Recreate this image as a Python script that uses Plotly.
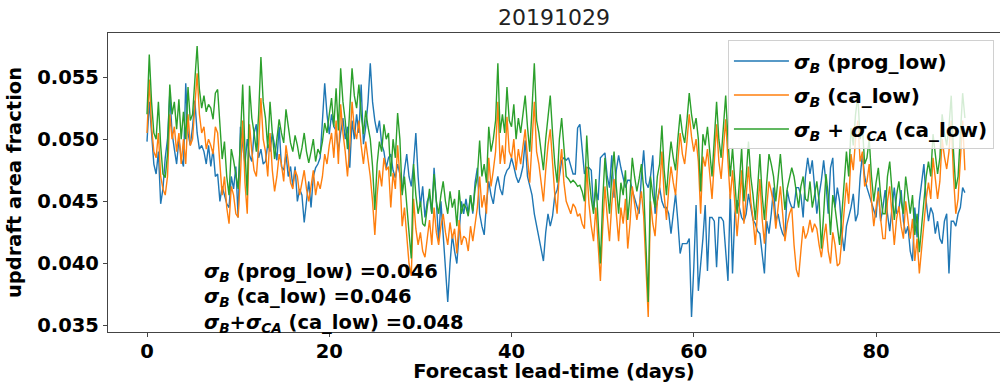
import plotly.graph_objects as go

# Ensemble updraft area fraction, 6-hourly output over a 90-day forecast
lead_time_days = [i * 0.25 for i in range(360)]

prog_low = [
    0.0498, 0.0530, 0.0505, 0.0480, 0.0472, 0.0490, 0.0448, 0.0460,
    0.0485, 0.0500, 0.0537, 0.0505, 0.0492, 0.0480, 0.0500, 0.0485,
    0.0478, 0.0545, 0.0505, 0.0495, 0.0510, 0.0531, 0.0505, 0.0492,
    0.0495, 0.0490, 0.0480, 0.0495, 0.0478, 0.0492, 0.0470, 0.0472,
    0.0450, 0.0462, 0.0455, 0.0448, 0.0445, 0.0470, 0.0460, 0.0478,
    0.0437, 0.0510, 0.0495, 0.0480, 0.0500, 0.0487, 0.0482, 0.0505,
    0.0512, 0.0485, 0.0492, 0.0480, 0.0482, 0.0496, 0.0490, 0.0505,
    0.0495, 0.0483, 0.0510, 0.0478, 0.0475, 0.0488, 0.0470, 0.0478,
    0.0462, 0.0478, 0.0450, 0.0460, 0.0455, 0.0433, 0.0450, 0.0466,
    0.0445, 0.0470, 0.0477, 0.0480, 0.0485, 0.0515, 0.0545, 0.0520,
    0.0504, 0.0520, 0.0510, 0.0507, 0.0490, 0.0505, 0.0517, 0.0500,
    0.0510, 0.0477, 0.0515, 0.0500, 0.0520, 0.0505, 0.0544, 0.0496,
    0.0510, 0.0530, 0.0561, 0.0530, 0.0515, 0.0505, 0.0515, 0.0496,
    0.0490, 0.0477, 0.0485, 0.0488, 0.0475, 0.0469, 0.0480, 0.0472,
    0.0458, 0.0475, 0.0488, 0.0470, 0.0462, 0.0480, 0.0505, 0.0470,
    0.0446, 0.0462, 0.0437, 0.0450, 0.0455, 0.0440, 0.0477, 0.0450,
    0.0418, 0.0450, 0.0420, 0.0390, 0.0369, 0.0400, 0.0423, 0.0410,
    0.0400, 0.0425, 0.0450, 0.0440, 0.0452, 0.0440, 0.0455, 0.0440,
    0.0465, 0.0477, 0.0440, 0.0430, 0.0423, 0.0448, 0.0466, 0.0455,
    0.0448, 0.0462, 0.0470, 0.0460, 0.0455, 0.0470, 0.0475, 0.0477,
    0.0485, 0.0478, 0.0470, 0.0465, 0.0470, 0.0478, 0.0499, 0.0470,
    0.0462, 0.0455, 0.0440, 0.0430, 0.0423, 0.0410, 0.0402, 0.0425,
    0.0440, 0.0430, 0.0438, 0.0455, 0.0459, 0.0470, 0.0483, 0.0485,
    0.0483, 0.0485, 0.0478, 0.0472, 0.0472, 0.0509, 0.0512, 0.0490,
    0.0472, 0.0477, 0.0477, 0.0475, 0.0443, 0.0459, 0.0451, 0.0485,
    0.0487, 0.0489, 0.0470, 0.0461, 0.0487, 0.0453, 0.0475, 0.0487,
    0.0477, 0.0470, 0.0461, 0.0467, 0.0467, 0.0459, 0.0452, 0.0446,
    0.0440, 0.0470, 0.0491, 0.0465, 0.0461, 0.0470, 0.0487, 0.0440,
    0.0451, 0.0461, 0.0450, 0.0445, 0.0445, 0.0440, 0.0424, 0.0440,
    0.0456, 0.0434, 0.0408, 0.0416, 0.0416, 0.0416, 0.0420, 0.0357,
    0.0397, 0.0447, 0.0378, 0.0397, 0.0420, 0.0447, 0.0394, 0.0437,
    0.0437, 0.0434, 0.0397, 0.0437, 0.0437, 0.0434, 0.0410, 0.0386,
    0.0456, 0.0392, 0.0440, 0.0451, 0.0445, 0.0437, 0.0434, 0.0440,
    0.0456, 0.0445, 0.0435, 0.0432, 0.0426, 0.0424, 0.0410, 0.0392,
    0.0434, 0.0424, 0.0440, 0.0461, 0.0434, 0.0440, 0.0430, 0.0424,
    0.0421, 0.0459, 0.0450, 0.0445, 0.0445, 0.0461, 0.0461, 0.0455,
    0.0437, 0.0470, 0.0485, 0.0472, 0.0483, 0.0460, 0.0440, 0.0455,
    0.0467, 0.0483, 0.0465, 0.0440, 0.0477, 0.0485, 0.0445, 0.0461,
    0.0450, 0.0424, 0.0410, 0.0430, 0.0437, 0.0445, 0.0456, 0.0434,
    0.0440, 0.0469, 0.0488, 0.0470, 0.0461, 0.0455, 0.0451, 0.0445,
    0.0437, 0.0461, 0.0434, 0.0445, 0.0459, 0.0440, 0.0426, 0.0445,
    0.0461, 0.0440, 0.0443, 0.0459, 0.0434, 0.0424, 0.0430, 0.0410,
    0.0402, 0.0445, 0.0421, 0.0450, 0.0467, 0.0480, 0.0450, 0.0434,
    0.0445, 0.0440, 0.0424, 0.0434, 0.0420, 0.0416, 0.0434, 0.0440,
    0.0392, 0.0434, 0.0434, 0.0430, 0.0440, 0.0445, 0.0461, 0.0457,
]

ca_low = [
    0.0505, 0.0548, 0.0510, 0.0490, 0.0485, 0.0505, 0.0470, 0.0460,
    0.0455, 0.0470, 0.0520, 0.0500, 0.0510, 0.0490, 0.0505, 0.0480,
    0.0500, 0.0480, 0.0520, 0.0495, 0.0500, 0.0530, 0.0553, 0.0520,
    0.0505, 0.0510, 0.0492, 0.0500, 0.0495, 0.0488, 0.0510, 0.0505,
    0.0480, 0.0455, 0.0470, 0.0445, 0.0432, 0.0462, 0.0455, 0.0440,
    0.0437, 0.0470, 0.0515, 0.0465, 0.0440, 0.0512, 0.0490, 0.0475,
    0.0470, 0.0495, 0.0533, 0.0500, 0.0490, 0.0470, 0.0505, 0.0475,
    0.0458, 0.0470, 0.0488, 0.0480, 0.0466, 0.0495, 0.0482, 0.0465,
    0.0460, 0.0475, 0.0470, 0.0455, 0.0465, 0.0475, 0.0460, 0.0450,
    0.0462, 0.0475, 0.0455, 0.0466, 0.0460, 0.0470, 0.0488, 0.0480,
    0.0495, 0.0505, 0.0485, 0.0515, 0.0480, 0.0528, 0.0505, 0.0490,
    0.0470, 0.0495, 0.0530, 0.0508, 0.0500, 0.0515, 0.0495, 0.0480,
    0.0498, 0.0485, 0.0470, 0.0450, 0.0423, 0.0455, 0.0475, 0.0462,
    0.0485, 0.0475, 0.0478, 0.0445, 0.0473, 0.0460, 0.0495, 0.0470,
    0.0430, 0.0445, 0.0420, 0.0400, 0.0390, 0.0452, 0.0428, 0.0415,
    0.0425, 0.0410, 0.0405, 0.0420, 0.0435, 0.0415, 0.0445, 0.0425,
    0.0415, 0.0430, 0.0440, 0.0425, 0.0415, 0.0433, 0.0420, 0.0428,
    0.0408, 0.0435, 0.0415, 0.0422, 0.0420, 0.0410, 0.0430, 0.0418,
    0.0432, 0.0445, 0.0470, 0.0445, 0.0455, 0.0440, 0.0485, 0.0462,
    0.0475, 0.0490, 0.0530, 0.0480, 0.0495, 0.0480, 0.0518, 0.0490,
    0.0485, 0.0500, 0.0475, 0.0492, 0.0480, 0.0495, 0.0508, 0.0485,
    0.0465, 0.0498, 0.0530, 0.0490, 0.0480, 0.0465, 0.0450, 0.0475,
    0.0495, 0.0508, 0.0480, 0.0455, 0.0440, 0.0475, 0.0492, 0.0465,
    0.0450, 0.0445, 0.0440, 0.0448, 0.0445, 0.0438, 0.0440, 0.0432,
    0.0428, 0.0478, 0.0448, 0.0430, 0.0418, 0.0445, 0.0410, 0.0386,
    0.0428, 0.0462, 0.0438, 0.0418, 0.0448, 0.0468, 0.0440, 0.0418,
    0.0445, 0.0432, 0.0452, 0.0412, 0.0432, 0.0462, 0.0448, 0.0435,
    0.0446, 0.0458, 0.0438, 0.0400, 0.0357, 0.0450, 0.0432, 0.0422,
    0.0450, 0.0460, 0.0490, 0.0455, 0.0435, 0.0460, 0.0478, 0.0465,
    0.0455, 0.0482, 0.0505, 0.0488, 0.0480, 0.0498, 0.0520, 0.0502,
    0.0490, 0.0500, 0.0482, 0.0440, 0.0486, 0.0478, 0.0492, 0.0472,
    0.0452, 0.0482, 0.0512, 0.0482, 0.0468, 0.0492, 0.0516, 0.0482,
    0.0452, 0.0475, 0.0446, 0.0422, 0.0446, 0.0475, 0.0432, 0.0452,
    0.0478, 0.0450, 0.0436, 0.0415, 0.0440, 0.0468, 0.0436, 0.0416,
    0.0445, 0.0466, 0.0458, 0.0448, 0.0428, 0.0445, 0.0462, 0.0440,
    0.0418, 0.0432, 0.0440, 0.0445, 0.0415, 0.0395, 0.0389, 0.0410,
    0.0430, 0.0420, 0.0425, 0.0435, 0.0425, 0.0432, 0.0428, 0.0415,
    0.0405, 0.0420, 0.0432, 0.0410, 0.0400, 0.0425, 0.0415, 0.0398,
    0.0400, 0.0420, 0.0440, 0.0465, 0.0448, 0.0488, 0.0475, 0.0500,
    0.0515, 0.0482, 0.0490, 0.0462, 0.0466, 0.0480, 0.0450, 0.0430,
    0.0445, 0.0458, 0.0436, 0.0420, 0.0420, 0.0450, 0.0462, 0.0440,
    0.0415, 0.0436, 0.0446, 0.0430, 0.0420, 0.0450, 0.0435, 0.0420,
    0.0436, 0.0402, 0.0420, 0.0392, 0.0412, 0.0432, 0.0452, 0.0465,
    0.0452, 0.0485, 0.0470, 0.0452, 0.0466, 0.0500, 0.0486, 0.0476,
    0.0490, 0.0515, 0.0470, 0.0440, 0.0452, 0.0482, 0.0515, 0.0475,
]

ca_low_with_ca = [
    0.0520, 0.0568, 0.0530, 0.0505, 0.0500, 0.0530, 0.0495, 0.0472,
    0.0469, 0.0488, 0.0544, 0.0520, 0.0530, 0.0508, 0.0532, 0.0500,
    0.0522, 0.0500, 0.0542, 0.0515, 0.0520, 0.0548, 0.0575, 0.0540,
    0.0525, 0.0535, 0.0522, 0.0528, 0.0525, 0.0516, 0.0537, 0.0540,
    0.0510, 0.0484, 0.0498, 0.0470, 0.0455, 0.0492, 0.0483, 0.0470,
    0.0460, 0.0500, 0.0544, 0.0490, 0.0455, 0.0543, 0.0517, 0.0505,
    0.0490, 0.0520, 0.0566, 0.0530, 0.0517, 0.0493, 0.0530, 0.0505,
    0.0484, 0.0500, 0.0516, 0.0505, 0.0497, 0.0524, 0.0510, 0.0497,
    0.0490, 0.0503, 0.0495, 0.0484, 0.0493, 0.0505, 0.0490, 0.0481,
    0.0490, 0.0500, 0.0482, 0.0492, 0.0488, 0.0498, 0.0513, 0.0505,
    0.0520, 0.0533, 0.0510, 0.0541, 0.0507, 0.0557, 0.0530, 0.0515,
    0.0492, 0.0520, 0.0557, 0.0535, 0.0525, 0.0544, 0.0520, 0.0504,
    0.0523, 0.0510, 0.0500, 0.0478, 0.0443, 0.0480, 0.0498, 0.0490,
    0.0512, 0.0500, 0.0505, 0.0470, 0.0500, 0.0485, 0.0521, 0.0500,
    0.0455, 0.0470, 0.0445, 0.0425, 0.0404, 0.0480, 0.0455, 0.0440,
    0.0450, 0.0432, 0.0430, 0.0446, 0.0460, 0.0440, 0.0472, 0.0450,
    0.0440, 0.0455, 0.0466, 0.0450, 0.0440, 0.0458, 0.0445, 0.0452,
    0.0430, 0.0459, 0.0440, 0.0448, 0.0445, 0.0438, 0.0455, 0.0442,
    0.0460, 0.0470, 0.0499, 0.0470, 0.0480, 0.0465, 0.0510, 0.0490,
    0.0500, 0.0515, 0.0561, 0.0505, 0.0520, 0.0505, 0.0542, 0.0515,
    0.0510, 0.0528, 0.0500, 0.0517, 0.0505, 0.0520, 0.0535, 0.0510,
    0.0490, 0.0525, 0.0561, 0.0515, 0.0505, 0.0490, 0.0475, 0.0500,
    0.0520, 0.0535, 0.0505, 0.0480, 0.0465, 0.0500, 0.0517, 0.0490,
    0.0470, 0.0468, 0.0465, 0.0467, 0.0465, 0.0462, 0.0463, 0.0458,
    0.0450, 0.0503, 0.0470, 0.0452, 0.0440, 0.0468, 0.0430, 0.0400,
    0.0450, 0.0485, 0.0460, 0.0440, 0.0470, 0.0490, 0.0462, 0.0440,
    0.0465, 0.0455, 0.0475, 0.0435, 0.0455, 0.0485, 0.0470, 0.0458,
    0.0468, 0.0480, 0.0460, 0.0420, 0.0369, 0.0470, 0.0455, 0.0445,
    0.0470, 0.0480, 0.0511, 0.0475, 0.0455, 0.0480, 0.0498, 0.0485,
    0.0475, 0.0500, 0.0520, 0.0505, 0.0497, 0.0515, 0.0537, 0.0520,
    0.0508, 0.0517, 0.0500, 0.0458, 0.0504, 0.0495, 0.0510, 0.0490,
    0.0470, 0.0500, 0.0530, 0.0500, 0.0485, 0.0510, 0.0535, 0.0500,
    0.0470, 0.0493, 0.0465, 0.0440, 0.0465, 0.0493, 0.0450, 0.0470,
    0.0498, 0.0470, 0.0455, 0.0435, 0.0460, 0.0488, 0.0455, 0.0435,
    0.0465, 0.0488, 0.0480, 0.0470, 0.0450, 0.0470, 0.0488, 0.0465,
    0.0443, 0.0460, 0.0470, 0.0477, 0.0470, 0.0458, 0.0445, 0.0462,
    0.0470, 0.0452, 0.0450, 0.0466, 0.0445, 0.0455, 0.0466, 0.0450,
    0.0412, 0.0440, 0.0472, 0.0455, 0.0423, 0.0455, 0.0445, 0.0430,
    0.0415, 0.0440, 0.0466, 0.0490, 0.0470, 0.0509, 0.0495, 0.0520,
    0.0535, 0.0500, 0.0510, 0.0480, 0.0485, 0.0500, 0.0470, 0.0450,
    0.0465, 0.0477, 0.0455, 0.0440, 0.0440, 0.0470, 0.0482, 0.0460,
    0.0435, 0.0455, 0.0466, 0.0450, 0.0440, 0.0470, 0.0455, 0.0440,
    0.0455, 0.0423, 0.0440, 0.0409, 0.0430, 0.0450, 0.0470, 0.0482,
    0.0470, 0.0504, 0.0490, 0.0472, 0.0485, 0.0520, 0.0505, 0.0495,
    0.0510, 0.0535, 0.0490, 0.0460, 0.0470, 0.0500, 0.0537, 0.0517,
]

series_names = [
    "<i>σ<sub>B</sub></i> (prog_low)",
    "<i>σ<sub>B</sub></i> (ca_low)",
    "<i>σ<sub>B</sub></i> + <i>σ<sub>CA</sub></i> (ca_low)",
]
series_colors = ["#1f77b4", "#ff7f0e", "#2ca02c"]
series_means = ["0.046", "0.046", "0.048"]
stat_labels = [
    "<i>σ<sub>B</sub></i> (prog_low) =",
    "<i>σ<sub>B</sub></i> (ca_low) =",
    "<i>σ<sub>B</sub></i>+<i>σ<sub>CA</sub></i> (ca_low) =",
]
x_ticks = [0, 20, 40, 60, 80]
y_ticks = [0.035, 0.040, 0.045, 0.050, 0.055]

FONT = "DejaVu Sans"
INK = "#000000"

fig = go.Figure()
for i, (vals, name, color) in enumerate(
    zip([prog_low, ca_low, ca_low_with_ca], series_names, series_colors)
):
    fig.add_trace(
        go.Scatter(
            x=lead_time_days,
            y=vals,
            mode="lines",
            name=name,
            legendgroup=f"g{i}",
            line=dict(color=color, width=1.4),
        )
    )

stats_text = "<br>".join(f"{lab}{m}" for lab, m in zip(stat_labels, series_means))
fig.add_annotation(
    x=6.0, y=0.03725, xref="x", yref="y",
    xanchor="left", yanchor="middle", align="left",
    text=stats_text, showarrow=False,
    font=dict(family=FONT, size=19.5, color=INK, weight="bold"),
)

axis_common = dict(
    showgrid=False, zeroline=False,
    showline=True, linecolor="#444444", linewidth=1.3,
    ticks="outside", ticklen=4, tickwidth=1.2, tickcolor="#444444",
    tickfont=dict(family=FONT, size=19.5, color=INK, weight="bold"),
)

fig.update_layout(
    width=1000, height=383,
    margin=dict(l=108, r=0, t=33, b=51),
    paper_bgcolor="white", plot_bgcolor="white",
    title=dict(
        text="20191029", x=0.5, xref="paper", xanchor="center",
        y=1 - 17 / 383, yref="container", yanchor="middle",
        font=dict(family=FONT, size=22, color="#222222"),
    ),
    legend=dict(
        x=0.695, y=0.975, xanchor="left", yanchor="top",
        bgcolor="rgba(255,255,255,0.8)", bordercolor="#d0d0d0", borderwidth=1,
        font=dict(family=FONT, size=20, color=INK, weight="bold"),
        tracegroupgap=5, itemwidth=55,
    ),
    showlegend=True,
)
fig.update_xaxes(
    range=[-4.28, 93.6], tickvals=x_ticks, ticktext=[str(t) for t in x_ticks],
    mirror=True, ticklabelstandoff=-3,
    title=dict(text="Forecast lead-time (days)", standoff=8,
               font=dict(family=FONT, size=19.5, color=INK, weight="bold")),
    **axis_common,
)
fig.update_yaxes(
    range=[0.03449, 0.05854], tickvals=y_ticks,
    ticktext=[f"{t:.3f}" for t in y_ticks],
    title=dict(text="updraft area fraction", standoff=10,
               font=dict(family=FONT, size=19.5, color=INK, weight="bold")),
    **axis_common,
)

fig.write_html("out.html")
